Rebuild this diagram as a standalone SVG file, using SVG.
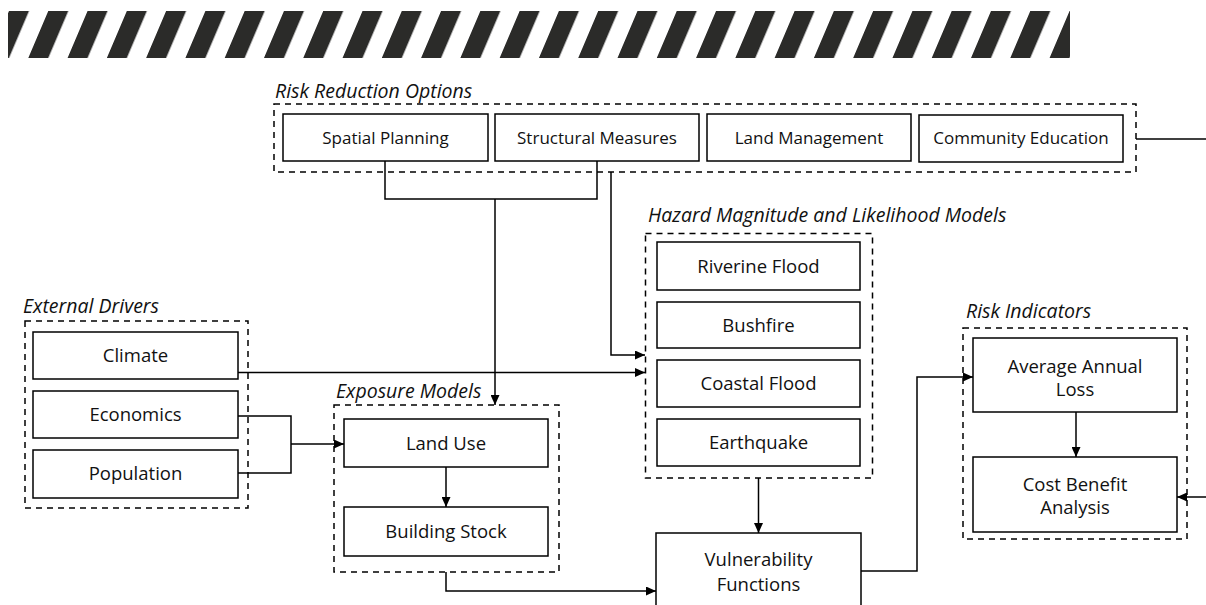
<svg xmlns="http://www.w3.org/2000/svg" width="1206" height="605" viewBox="0 0 1206 605">
<style>
.box{fill:#fff;stroke:#000;stroke-width:1.5}
.grp{fill:none;stroke:#000;stroke-width:1.5;stroke-dasharray:6 5}
.t{font-family:"Open Sans","Noto Sans",sans-serif;font-size:18.5px;fill:#111;text-anchor:middle}
.ts{font-size:17px}
.lbl{font-family:"Open Sans","Noto Sans",sans-serif;font-size:19.5px;font-style:italic;fill:#111}
.c{fill:none;stroke:#000;stroke-width:1.5}
.a{marker-end:url(#arr)}
</style>
<defs>
<marker id="arr" markerUnits="userSpaceOnUse" markerWidth="10" markerHeight="9" refX="10" refY="4.5" orient="auto">
<path d="M0,0 L10,4.5 L0,9 Z" fill="#000"/>
</marker>
<pattern id="stripes" patternUnits="userSpaceOnUse" x="13.68" y="0" width="39.28" height="100" patternTransform="skewX(-23.05)">
<rect x="0" y="0" width="20" height="100" fill="#2b2b29"/>
</pattern>
</defs>
<rect width="1206" height="605" fill="#fff"/>
<rect x="8" y="11" width="1062" height="47" fill="url(#stripes)"/>

<g id="risk-reduction-options">
<rect class="grp" x="274" y="104" width="862" height="68"/>
<text class="lbl" x="275" y="98">Risk Reduction Options</text>
</g>
<g id="spatial-planning"><rect class="box" x="283" y="114" width="205" height="47"/><text class="t ts" x="385.5" y="143.5">Spatial Planning</text></g>
<g id="structural-measures"><rect class="box" x="495" y="114" width="204" height="47"/><text class="t ts" x="597" y="143.5">Structural Measures</text></g>
<g id="land-management"><rect class="box" x="707" y="114" width="204" height="47"/><text class="t ts" x="809" y="143.5">Land Management</text></g>
<g id="community-education"><rect class="box" x="919" y="115" width="204" height="47"/><text class="t ts" x="1021" y="144">Community Education</text></g>

<g id="hazard-models">
<rect class="grp" x="645.5" y="233.5" width="227" height="244.5"/>
<text class="lbl" x="648" y="222">Hazard Magnitude and Likelihood Models</text>
</g>
<g id="riverine-flood"><rect class="box" x="657" y="242" width="203" height="48"/><text class="t" x="758.5" y="272.5">Riverine Flood</text></g>
<g id="bushfire"><rect class="box" x="657" y="302" width="203" height="46"/><text class="t" x="758.5" y="331.5">Bushfire</text></g>
<g id="coastal-flood"><rect class="box" x="657" y="360" width="203" height="47"/><text class="t" x="758.5" y="390">Coastal Flood</text></g>
<g id="earthquake"><rect class="box" x="657" y="419" width="203" height="47"/><text class="t" x="758.5" y="449">Earthquake</text></g>

<g id="vulnerability-functions"><rect class="box" x="656" y="533" width="205" height="90"/><text class="t" x="758.5" y="566">Vulnerability</text><text class="t" x="758.5" y="591">Functions</text></g>

<g id="risk-indicators">
<rect class="grp" x="963" y="328" width="224" height="211"/>
<text class="lbl" x="966" y="318">Risk Indicators</text>
</g>
<g id="average-annual-loss"><rect class="box" x="973" y="338" width="204" height="74"/><text class="t" x="1075" y="372.5">Average Annual</text><text class="t" x="1075" y="396">Loss</text></g>
<g id="cost-benefit-analysis"><rect class="box" x="973" y="457" width="204" height="75"/><text class="t" x="1075" y="490.5">Cost Benefit</text><text class="t" x="1075" y="514">Analysis</text></g>

<g id="exposure-models">
<rect class="grp" x="334" y="405" width="225" height="167"/>
<text class="lbl" x="336" y="398">Exposure Models</text>
</g>
<g id="land-use"><rect class="box" x="344" y="419" width="204" height="48"/><text class="t" x="446" y="449.5">Land Use</text></g>
<g id="building-stock"><rect class="box" x="344" y="507" width="204" height="49"/><text class="t" x="446" y="538">Building Stock</text></g>

<g id="external-drivers">
<rect class="grp" x="25" y="321" width="223" height="187"/>
<text class="lbl" x="23" y="313">External Drivers</text>
</g>
<g id="climate"><rect class="box" x="33" y="332" width="205" height="47"/><text class="t" x="135.5" y="361.5">Climate</text></g>
<g id="economics"><rect class="box" x="33" y="391" width="205" height="47"/><text class="t" x="135.5" y="420.5">Economics</text></g>
<g id="population"><rect class="box" x="33" y="450" width="205" height="48"/><text class="t" x="135.5" y="480">Population</text></g>

<g id="connectors">
<path class="c" d="M385,161 V199 H597 V161"/>
<path class="c a" d="M495,199 V405"/>
<path class="c a" d="M611,172 V355 H645"/>
<path class="c a" d="M238,372.5 H645"/>
<path class="c" d="M238,416 H291 V473 H238"/>
<path class="c a" d="M291,444 H344"/>
<path class="c a" d="M446,467 V507"/>
<path class="c a" d="M446,572 V591 H656"/>
<path class="c a" d="M758.5,478 V533"/>
<path class="c a" d="M861,571 H917 V377 H973"/>
<path class="c a" d="M1076,412 V457"/>
<path class="c a" d="M1206,497 H1177"/>
<path class="c" d="M1136,139 H1206"/>
</g>
</svg>
